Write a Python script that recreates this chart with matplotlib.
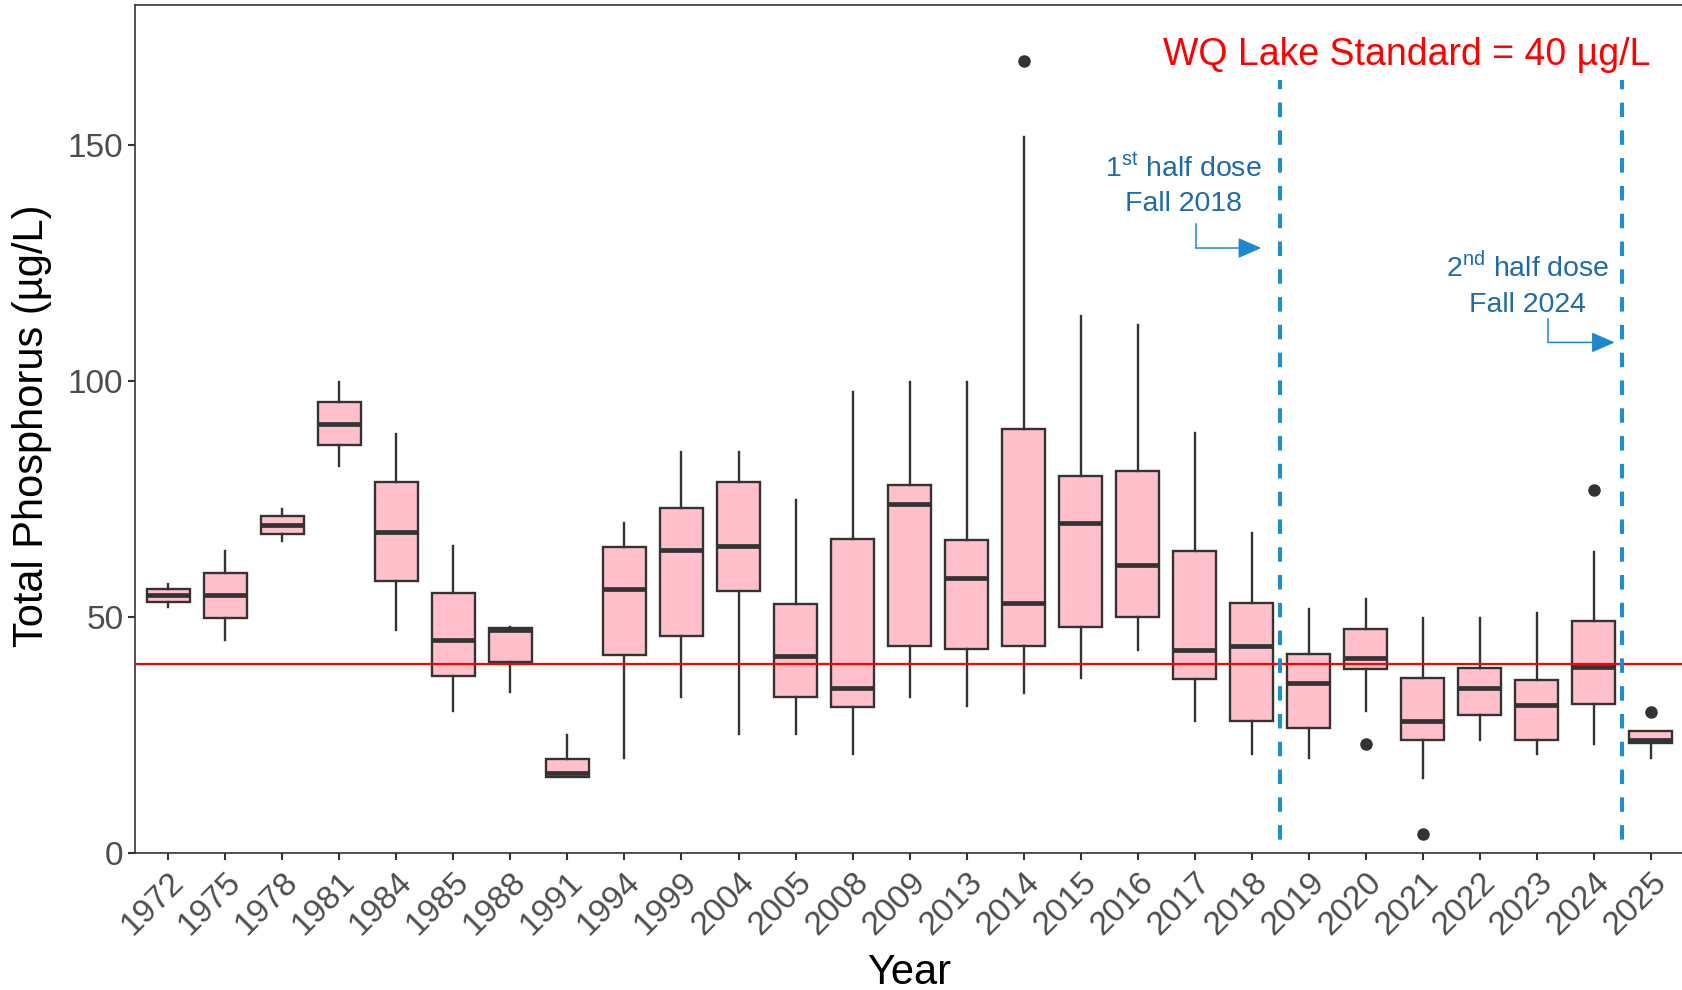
import matplotlib
matplotlib.use("Agg")
import matplotlib.pyplot as plt

plt.rcParams['font.family'] = ['Liberation Sans', 'DejaVu Sans']
plt.rcParams['mathtext.fontset'] = 'custom'
plt.rcParams['mathtext.rm'] = 'Liberation Sans'

years = ["1972", "1975", "1978", "1981", "1984", "1985", "1988", "1991", "1994",
         "1999", "2004", "2005", "2008", "2009", "2013", "2014", "2015", "2016",
         "2017", "2018", "2019", "2020", "2021", "2022", "2023", "2024", "2025"]
q1 = [53.1, 49.7, 67.6, 86.3, 57.5, 37.5, 40.4, 16.0, 41.8, 46.0, 55.5, 32.9, 30.8,
      43.8, 43.2, 43.8, 47.8, 49.9, 36.8, 27.9, 26.4, 38.9, 23.8, 29.1, 23.8, 31.5, 23.3]
med = [54.5, 54.5, 69.5, 90.9, 68.0, 45.0, 47.1, 17.0, 55.9, 64.1, 65.0, 41.6, 34.8,
       73.8, 58.3, 53.0, 69.9, 60.9, 43.0, 43.9, 35.9, 41.3, 27.9, 34.8, 31.4, 39.3, 23.9]
q3 = [55.8, 59.3, 71.4, 95.4, 78.5, 55.0, 47.6, 19.9, 64.8, 73.0, 78.5, 52.6, 66.4,
      77.9, 66.3, 89.8, 79.8, 80.9, 63.9, 53.0, 42.0, 47.3, 37.0, 39.1, 36.7, 49.1, 25.8]
whislo = [52.1, 45.1, 66.1, 82.0, 47.1, 30.1, 34.1, 16.0, 20.1, 33.1, 25.1, 25.1, 21.0,
          33.0, 31.0, 33.9, 37.0, 43.0, 28.0, 21.0, 20.0, 30.0, 15.9, 23.8, 21.0, 23.0, 20.0]
whishi = [56.9, 63.9, 72.8, 99.8, 88.8, 64.9, 47.9, 25.0, 69.9, 84.9, 84.9, 74.8, 97.7,
          99.7, 99.7, 151.7, 113.7, 111.7, 88.9, 67.7, 51.7, 53.7, 49.8, 49.8, 50.7, 63.8, 25.8]
outliers = {"2014": [167.8], "2020": [23.0], "2021": [3.9], "2024": [76.9], "2025": [29.9]}

standard = 40
dose_lines = [19.5, 25.5]

fig = plt.figure(figsize=(16.82, 9.90), dpi=100)
ax = fig.add_axes([0.0804, 0.1386, 0.9196, 0.8560])

stats = []
for i, y in enumerate(years):
    stats.append(dict(label=y, q1=q1[i], med=med[i], q3=q3[i],
                      whislo=whislo[i], whishi=whishi[i],
                      fliers=outliers.get(y, [])))

dark = '#333333'
ax.bxp(stats, positions=range(len(years)), widths=0.75, patch_artist=True,
       showcaps=False,
       boxprops=dict(facecolor='#FFC0CB', edgecolor=dark, linewidth=1.7),
       medianprops=dict(color=dark, linewidth=3.4, solid_capstyle='butt'),
       whiskerprops=dict(color=dark, linewidth=1.7),
       flierprops=dict(marker='o', markerfacecolor=dark, markeredgecolor=dark,
                       markersize=8))

ax.axhline(standard, color='#FF0000', lw=1.6, zorder=5)

for x in dose_lines:
    ax.plot([x, x], [163.7, 2.3], color='#1B8FD6', lw=2.9,
            linestyle=(1.3, (3.6, 3.3)), zorder=5)

ax.text(26.0, 166.8, "WQ Lake Standard = 40 µg/L", color='#FF0000', fontsize=27,
        ha='right', va='baseline')

ann_col = '#1F6BA6'
arr_col = '#1E88CF'
ax.text(17.80, 143.1, r"1$^{\mathregular{st}}$ half dose", color=ann_col, fontsize=20.5,
        ha='center', va='baseline')
ax.text(17.80, 136.0, "Fall 2018", color=ann_col, fontsize=20.5,
        ha='center', va='baseline')
ax.text(23.84, 121.9, r"2$^{\mathregular{nd}}$ half dose", color=ann_col, fontsize=20.5,
        ha='center', va='baseline')
ax.text(23.84, 114.6, "Fall 2024", color=ann_col, fontsize=20.5,
        ha='center', va='baseline')

for (x0, ytop, yc, xtip) in [(18.03, 133.2, 128.1, 19.17), (24.2, 113.1, 108.1, 25.37)]:
    ax.plot([x0, x0], [ytop, yc], color=arr_col, lw=1.1)
    ax.annotate('', xy=(xtip, yc), xytext=(x0, yc),
                arrowprops=dict(arrowstyle='-|>,head_length=0.8,head_width=0.35',
                                color=arr_col, lw=1.1, shrinkA=0, shrinkB=0,
                                mutation_scale=18))

ax.set_xlim(-0.582, 26.55)
ax.set_ylim(0, 179.5)
ax.set_xticks(range(len(years)))
ax.set_xticklabels(years, rotation=45, ha='right', va='top', rotation_mode='anchor')
ax.set_yticks([0, 50, 100, 150])
ax.tick_params(axis='both', labelsize=24, labelcolor='#4D4D4D', color=dark,
               length=5, width=1.5)
ax.tick_params(axis='x', pad=5)
for s in ['left', 'bottom', 'top']:
    ax.spines[s].set_color(dark)
    ax.spines[s].set_linewidth(1.2)
ax.spines['right'].set_visible(False)

fig.text(0.019, 0.57, "Total Phosphorus (µg/L)", rotation=90, fontsize=30,
         ha='center', va='center', color='black')
fig.text(0.5408, 0.006, "Year", fontsize=30, ha='center', va='baseline', color='black')

fig.savefig("out.png", dpi=100)
